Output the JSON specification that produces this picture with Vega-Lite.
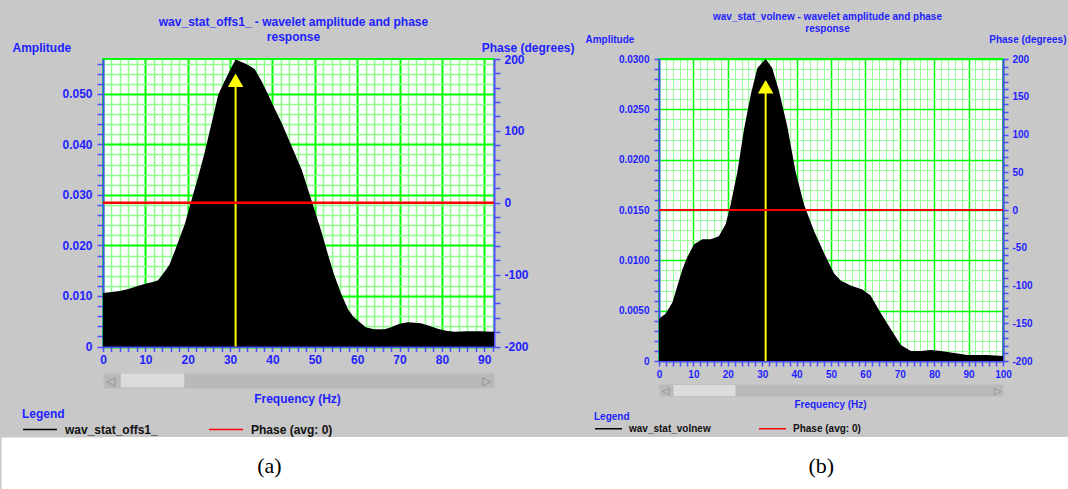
{
  "$schema": "https://vega.github.io/schema/vega-lite/v6.json",
  "background": "#c8c8c8",
  "padding": 0,
  "spacing": -8.6,
  "datasets": {
    "ampA": [
      {"f": 0, "amp": 0.0106}, {"f": 2, "amp": 0.0108}, {"f": 4, "amp": 0.011}, {"f": 6, "amp": 0.0114},
      {"f": 8, "amp": 0.0119}, {"f": 10, "amp": 0.0124}, {"f": 12, "amp": 0.0128}, {"f": 13, "amp": 0.0131},
      {"f": 14, "amp": 0.0142}, {"f": 15.7, "amp": 0.0162}, {"f": 17, "amp": 0.019}, {"f": 18.5, "amp": 0.0224},
      {"f": 19.3, "amp": 0.0242}, {"f": 20.9, "amp": 0.029}, {"f": 22.5, "amp": 0.0337}, {"f": 24, "amp": 0.0384},
      {"f": 25.6, "amp": 0.0441}, {"f": 27.2, "amp": 0.0498}, {"f": 28.5, "amp": 0.0522}, {"f": 30, "amp": 0.0547},
      {"f": 31.3, "amp": 0.0568}, {"f": 33.8, "amp": 0.0559}, {"f": 35.8, "amp": 0.0549}, {"f": 37.5, "amp": 0.0524},
      {"f": 39, "amp": 0.0498}, {"f": 40.5, "amp": 0.0471}, {"f": 42.1, "amp": 0.0444}, {"f": 44.5, "amp": 0.0397},
      {"f": 46.9, "amp": 0.035}, {"f": 49.2, "amp": 0.029}, {"f": 51.5, "amp": 0.0229}, {"f": 53, "amp": 0.0185},
      {"f": 54.6, "amp": 0.0141}, {"f": 56.2, "amp": 0.0105}, {"f": 57.8, "amp": 0.0074}, {"f": 59, "amp": 0.006},
      {"f": 60.2, "amp": 0.0051}, {"f": 62, "amp": 0.0038}, {"f": 64, "amp": 0.0034}, {"f": 66.5, "amp": 0.0034},
      {"f": 68, "amp": 0.0038}, {"f": 70, "amp": 0.0045}, {"f": 72, "amp": 0.0048}, {"f": 75, "amp": 0.0046},
      {"f": 77, "amp": 0.0041}, {"f": 79, "amp": 0.0035}, {"f": 81, "amp": 0.0031}, {"f": 83, "amp": 0.0029},
      {"f": 86, "amp": 0.003}, {"f": 89, "amp": 0.003}, {"f": 92.3, "amp": 0.0029}
    ],
    "ampB": [
      {"f": 0, "amp": 0.0042}, {"f": 1.9, "amp": 0.0047}, {"f": 3.9, "amp": 0.0058}, {"f": 5.3, "amp": 0.0074},
      {"f": 6.8, "amp": 0.0091}, {"f": 8.2, "amp": 0.0103}, {"f": 10.2, "amp": 0.0116}, {"f": 12.6, "amp": 0.0121},
      {"f": 15, "amp": 0.0121}, {"f": 17.4, "amp": 0.0124}, {"f": 19.4, "amp": 0.0136}, {"f": 20.8, "amp": 0.0155},
      {"f": 22.8, "amp": 0.0188}, {"f": 24.7, "amp": 0.023}, {"f": 26.7, "amp": 0.0265}, {"f": 28.6, "amp": 0.0291},
      {"f": 31, "amp": 0.03}, {"f": 32.9, "amp": 0.0291}, {"f": 34.9, "amp": 0.0268}, {"f": 37.3, "amp": 0.0233},
      {"f": 39.7, "amp": 0.0188}, {"f": 42.2, "amp": 0.0155}, {"f": 45.1, "amp": 0.0129}, {"f": 48, "amp": 0.0107},
      {"f": 50.9, "amp": 0.0087}, {"f": 52.8, "amp": 0.008}, {"f": 55.7, "amp": 0.0075}, {"f": 59.1, "amp": 0.0071},
      {"f": 61.5, "amp": 0.0065}, {"f": 64.4, "amp": 0.0048}, {"f": 67.3, "amp": 0.0032}, {"f": 70.3, "amp": 0.0016},
      {"f": 73.2, "amp": 0.001}, {"f": 76.1, "amp": 0.001}, {"f": 79, "amp": 0.0011}, {"f": 81.9, "amp": 0.001},
      {"f": 85.8, "amp": 0.0008}, {"f": 89.6, "amp": 0.0006}, {"f": 95.4, "amp": 0.0006}, {"f": 100, "amp": 0.0005}
    ],
    "captions": [{"label": "(a)"}, {"label": "(b)"}]
  },
  "config": {
    "view": {"stroke": null},
    "axis": {
      "labelFont": "Liberation Sans", "labelFontWeight": "bold", "labelColor": "#1f1fff",
      "titleFont": "Liberation Sans", "titleFontWeight": "bold", "titleColor": "#1f1fff",
      "domainColor": "#4d4dff", "tickColor": "#4d4dff", "domainWidth": 2, "tickWidth": 1.5,
      "labelFlush": false, "labelOverlap": false, "labelBound": false
    }
  },
  "vconcat": [
    {
      "align": "none",
      "spacing": 3,
      "resolve": {"scale": {"stroke": "independent"}, "legend": {"stroke": "independent"}},
      "hconcat": [
        {
          "width": 391, "height": 287.5,
          "view": {"fill": "#ffffff", "stroke": "#00ff00", "strokeWidth": 2},
          "resolve": {"scale": {"y": "independent"}, "axis": {"x": "independent"}},
          "layer": [
            {
              "data": {"name": "ampA"},
              "mark": {"type": "area", "color": "#000000", "interpolate": "linear"},
              "encoding": {
                "x": {"field": "f", "type": "quantitative", "scale": {"domain": [0, 92.3], "nice": false, "zero": false},
                  "axis": {"orient": "bottom",
                    "values": [0,2,4,6,8,10,12,14,16,18,20,22,24,26,28,30,32,34,36,38,40,42,44,46,48,50,52,54,56,58,60,62,64,66,68,70,72,74,76,78,80,82,84,86,88,90,92],
                    "labelExpr": "round(datum.value) % 10 == 0 ? '' + datum.value : ''",
                    "labelFontSize": 12, "labelPadding": 3, "tickSize": 5,
                    "grid": true,
                    "gridColor": {"condition": {"test": "round(datum.value) % 10 == 0", "value": "#00ff00"}, "value": "#8cff8c"},
                    "gridWidth": {"condition": {"test": "round(datum.value) % 10 == 0", "value": 2}, "value": 1.5},
                    "title": ["wav_stat_offs1_ - wavelet amplitude and phase", "response"],
                    "titleFontSize": 12, "titleLineHeight": 14.5, "titleAngle": 0,
                    "titleX": 190, "titleY": -330, "titleAlign": "center", "titleBaseline": "top"}},
                "y": {"field": "amp", "type": "quantitative", "scale": {"domain": [0, 0.0569], "nice": false},
                  "axis": {"orient": "left",
                    "values": [0,0.002,0.004,0.006,0.008,0.01,0.012,0.014,0.016,0.018,0.02,0.022,0.024,0.026,0.028,0.03,0.032,0.034,0.036,0.038,0.04,0.042,0.044,0.046,0.048,0.05,0.052,0.054,0.056],
                    "labelExpr": "datum.value == 0 ? '0' : (round(datum.value*1000) % 10 == 0 ? format(datum.value, '.3f') : '')",
                    "labelFontSize": 12, "labelPadding": 5, "tickSize": 6,
                    "grid": true,
                    "gridColor": {"condition": {"test": "round(datum.value*1000) % 10 == 0", "value": "#00ff00"}, "value": "#8cff8c"},
                    "gridWidth": {"condition": {"test": "round(datum.value*1000) % 10 == 0", "value": 2}, "value": 1.5},
                    "title": "Amplitude", "titleFontSize": 12, "titleAngle": 0,
                    "titleX": -91, "titleY": -12, "titleAlign": "left", "titleBaseline": "middle"}}
              }
            },
            {
              "data": {"values": [{}]},
              "mark": {"type": "rule", "color": "#ffff00", "strokeWidth": 2},
              "encoding": {
                "x": {"datum": 31.3, "type": "quantitative", "scale": {"domain": [0, 92.3], "nice": false, "zero": false},
                  "axis": {"orient": "bottom", "offset": 34, "grid": false,
                    "domain": true, "domainColor": "#b9b9b9", "domainWidth": 15, "domainCap": "butt",
                    "ticks": false, "labels": false,
                    "title": "Frequency (Hz)", "titleFontSize": 12, "titleX": 194, "titleY": 17.5,
                    "titleAlign": "center", "titleBaseline": "middle"}},
                "y": {"datum": 0, "type": "quantitative", "scale": {"domain": [0, 0.0569], "nice": false}, "axis": null},
                "y2": {"datum": 0.0527}
              }
            },
            {
              "data": {"values": [{}]},
              "mark": {"type": "point", "shape": "triangle-up", "filled": true, "color": "#ffff00", "size": 240, "opacity": 1},
              "encoding": {
                "x": {"datum": 31.3, "type": "quantitative", "scale": {"domain": [0, 92.3], "nice": false, "zero": false},
                  "axis": {"orient": "bottom", "offset": 26.5, "grid": false, "domain": false,
                    "values": [1.75, 11.6, 90.5],
                    "tickWidth": {"condition": {"test": "datum.value > 5 && datum.value < 80", "value": 63.5}, "value": 0},
                    "tickSize": 14, "tickColor": "#dcdcdc", "tickCap": "butt",
                    "labels": true,
                    "labelExpr": "datum.value < 5 ? '◁' : (datum.value > 80 ? '▷' : '')",
                    "labelFont": "DejaVu Sans", "labelFontWeight": "normal", "labelColor": "#8a8a8a",
                    "labelFontSize": 12, "labelPadding": -6.5, "labelBaseline": "middle",
                    "title": ".", "titleFontSize": 1, "titleColor": "#c8c8c8", "titleX": -101.6, "titleY": -372,
                    "titleAlign": "left", "titleBaseline": "top"}},
                "y": {"datum": 0.0527, "type": "quantitative", "scale": {"domain": [0, 0.0569], "nice": false}, "axis": null}
              }
            },
            {
              "data": {"values": [{}]},
              "mark": {"type": "rule", "strokeWidth": 2.5},
              "encoding": {
                "y": {"datum": 0, "type": "quantitative", "scale": {"domain": [-200, 200], "nice": false},
                  "axis": {"orient": "right",
                    "values": [-200,-180,-160,-140,-120,-100,-80,-60,-40,-20,0,20,40,60,80,100,120,140,160,180,200],
                    "labelExpr": "datum.value % 100 == 0 ? '' + datum.value : ''",
                    "labelFontSize": 12, "labelPadding": 4, "tickSize": 6, "grid": false,
                    "title": "Phase (degrees)", "titleFontSize": 12, "titleAngle": 0,
                    "titleX": 80, "titleY": -12, "titleAlign": "right", "titleBaseline": "middle"}},
                "stroke": {"datum": "Phase (avg: 0)", "type": "nominal",
                  "scale": {"domain": ["wav_stat_offs1_", "Phase (avg: 0)"], "range": ["#000000", "#ff0000"]},
                  "legend": {"orient": "none", "legendX": -81, "legendY": 350, "direction": "horizontal",
                    "title": "Legend", "titleFont": "Liberation Sans", "titleFontSize": 12, "titleFontWeight": "bold",
                    "titleColor": "#1f1fff", "titlePadding": -9.5,
                    "symbolType": "stroke", "symbolSize": 1156, "symbolStrokeWidth": 1.5,
                    "labelFont": "Liberation Sans", "labelFontSize": 12, "labelFontWeight": "bold", "labelColor": "#111111",
                    "labelOffset": 7, "columnPadding": 48}}
              }
            }
          ]
        },
        {
          "width": 344, "height": 302,
          "view": {"fill": "#ffffff", "stroke": "#00ff00", "strokeWidth": 2},
          "resolve": {"scale": {"y": "independent"}, "axis": {"x": "independent"}},
          "layer": [
            {
              "data": {"name": "ampB"},
              "mark": {"type": "area", "color": "#000000", "interpolate": "linear"},
              "encoding": {
                "x": {"field": "f", "type": "quantitative", "scale": {"domain": [0, 100], "nice": false, "zero": false},
                  "axis": {"orient": "bottom",
                    "values": [0,2,4,6,8,10,12,14,16,18,20,22,24,26,28,30,32,34,36,38,40,42,44,46,48,50,52,54,56,58,60,62,64,66,68,70,72,74,76,78,80,82,84,86,88,90,92,94,96,98,100],
                    "labelExpr": "round(datum.value) % 10 == 0 ? '' + datum.value : ''",
                    "labelFontSize": 10, "labelPadding": 3, "tickSize": 5,
                    "grid": true,
                    "gridColor": {"condition": {"test": "round(datum.value) % 10 == 0", "value": "#00ff00"}, "value": "#96ff96"},
                    "gridWidth": {"condition": {"test": "round(datum.value) % 10 == 0", "value": 1.5}, "value": 1},
                    "title": ["wav_stat_volnew - wavelet amplitude and phase", "response"],
                    "titleFontSize": 10, "titleLineHeight": 12, "titleAngle": 0,
                    "titleX": 168, "titleY": -350, "titleAlign": "center", "titleBaseline": "top"}},
                "y": {"field": "amp", "type": "quantitative", "scale": {"domain": [0, 0.03], "nice": false},
                  "axis": {"orient": "left",
                    "values": [0,0.001,0.002,0.003,0.004,0.005,0.006,0.007,0.008,0.009,0.01,0.011,0.012,0.013,0.014,0.015,0.016,0.017,0.018,0.019,0.02,0.021,0.022,0.023,0.024,0.025,0.026,0.027,0.028,0.029,0.03],
                    "labelExpr": "datum.value == 0 ? '0' : (round(datum.value*1000) % 5 == 0 ? format(datum.value, '.4f') : '')",
                    "labelFontSize": 10, "labelPadding": 5, "tickSize": 5,
                    "grid": true,
                    "gridColor": {"condition": {"test": "round(datum.value*1000) % 5 == 0", "value": "#00ff00"}, "value": "#96ff96"},
                    "gridWidth": {"condition": {"test": "round(datum.value*1000) % 5 == 0", "value": 1.5}, "value": 1},
                    "title": "Amplitude", "titleFontSize": 10, "titleAngle": 0,
                    "titleX": -74, "titleY": -19.7, "titleAlign": "left", "titleBaseline": "middle"}}
              }
            },
            {
              "data": {"values": [{}]},
              "mark": {"type": "rule", "color": "#ffff00", "strokeWidth": 2},
              "encoding": {
                "x": {"datum": 31, "type": "quantitative", "scale": {"domain": [0, 100], "nice": false, "zero": false},
                  "axis": {"orient": "bottom", "offset": 29, "grid": false,
                    "domain": true, "domainColor": "#b9b9b9", "domainWidth": 12, "domainCap": "butt",
                    "ticks": false, "labels": false,
                    "title": "Frequency (Hz)", "titleFontSize": 10, "titleX": 171, "titleY": 14,
                    "titleAlign": "center", "titleBaseline": "middle"}},
                "y": {"datum": 0, "type": "quantitative", "scale": {"domain": [0, 0.03], "nice": false}, "axis": null},
                "y2": {"datum": 0.02725}
              }
            },
            {
              "data": {"values": [{}]},
              "mark": {"type": "point", "shape": "triangle-up", "filled": true, "color": "#ffff00", "size": 240, "opacity": 1},
              "encoding": {
                "x": {"datum": 31, "type": "quantitative", "scale": {"domain": [0, 100], "nice": false, "zero": false},
                  "axis": {"orient": "bottom", "offset": 23.5, "grid": false, "domain": false,
                    "values": [1.8, 13.1, 98.3],
                    "tickWidth": {"condition": {"test": "datum.value > 5 && datum.value < 80", "value": 62}, "value": 0},
                    "tickSize": 11, "tickColor": "#dcdcdc", "tickCap": "butt",
                    "labels": true,
                    "labelExpr": "datum.value < 5 ? '◁' : (datum.value > 80 ? '▷' : '')",
                    "labelFont": "DejaVu Sans", "labelFontWeight": "normal", "labelColor": "#8a8a8a",
                    "labelFontSize": 10, "labelPadding": -5.2, "labelBaseline": "middle",
                    "title": ".", "titleFontSize": 1, "titleColor": "#c8c8c8", "titleX": -80, "titleY": -383.5,
                    "titleAlign": "left", "titleBaseline": "top"}},
                "y": {"datum": 0.02725, "type": "quantitative", "scale": {"domain": [0, 0.03], "nice": false}, "axis": null}
              }
            },
            {
              "data": {"values": [{}]},
              "mark": {"type": "rule", "strokeWidth": 2},
              "encoding": {
                "y": {"datum": 0, "type": "quantitative", "scale": {"domain": [-200, 200], "nice": false},
                  "axis": {"orient": "right",
                    "values": [-200,-190,-180,-170,-160,-150,-140,-130,-120,-110,-100,-90,-80,-70,-60,-50,-40,-30,-20,-10,0,10,20,30,40,50,60,70,80,90,100,110,120,130,140,150,160,170,180,190,200],
                    "labelExpr": "datum.value % 50 == 0 ? '' + datum.value : ''",
                    "labelFontSize": 10, "labelPadding": 4, "tickSize": 5, "grid": false,
                    "title": "Phase (degrees)", "titleFontSize": 10, "titleAngle": 0,
                    "titleX": 63, "titleY": -19.7, "titleAlign": "right", "titleBaseline": "middle"}},
                "stroke": {"datum": "Phase (avg: 0)", "type": "nominal",
                  "scale": {"domain": ["wav_stat_volnew", "Phase (avg: 0)"], "range": ["#000000", "#ff0000"]},
                  "legend": {"orient": "none", "legendX": -65, "legendY": 353, "direction": "horizontal",
                    "title": "Legend", "titleFont": "Liberation Sans", "titleFontSize": 10, "titleFontWeight": "bold",
                    "titleColor": "#1f1fff", "titlePadding": -8,
                    "symbolType": "stroke", "symbolSize": 729, "symbolStrokeWidth": 1.5,
                    "labelFont": "Liberation Sans", "labelFontSize": 10, "labelFontWeight": "bold", "labelColor": "#111111",
                    "labelOffset": 6, "columnPadding": 45}}
              }
            }
          ]
        }
      ]
    },
    {
      "width": 966.4, "height": 52,
      "view": {"fill": "#ffffff", "stroke": null},
      "data": {"name": "captions"},
      "mark": {"type": "text", "font": "Liberation Serif", "fontSize": 22, "color": "#000000", "baseline": "middle"},
      "encoding": {
        "x": {"field": "label", "type": "nominal", "scale": {"type": "point", "padding": 0.3754, "align": 0.4015}, "axis": null},
        "y": {"datum": 0.44, "type": "quantitative", "scale": {"domain": [0, 1], "nice": false},
          "axis": {"orient": "left", "domain": true, "domainColor": "#ffffff", "domainWidth": 204, "domainCap": "butt",
            "ticks": false, "labels": false, "grid": false, "title": null}},
        "text": {"field": "label"}
      }
    }
  ]
}
